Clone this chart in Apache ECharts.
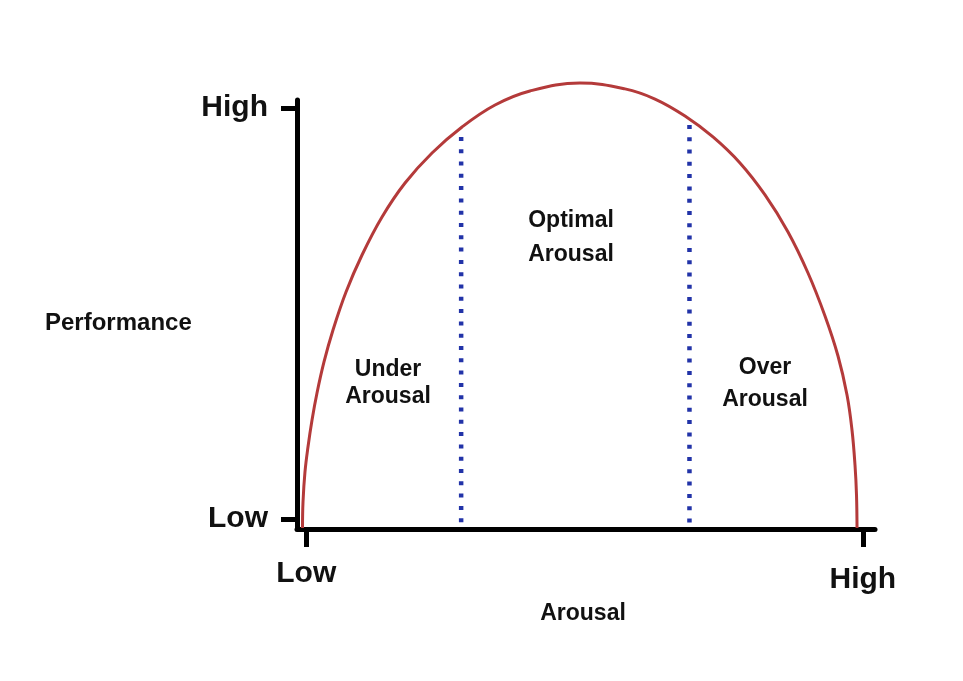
<!DOCTYPE html>
<html><head><meta charset="utf-8">
<script src="https://cdn.jsdelivr.net/npm/echarts@6/dist/echarts.min.js"></script>
<style>html,body{margin:0;padding:0;background:#fff}#c{width:963px;height:681px}</style>
</head><body><div id="c"></div>
<script>
// Inverted-U curve (arousal vs performance) (0-100 scales)
const curveX = [0.95, 1.04, 1.38, 1.90, 2.60, 3.46, 4.67, 6.23, 8.48, 11.25, 14.71, 18.69, 23.36, 28.55, 34.26, 40.31, 48.96, 56.75, 61.94, 67.13, 71.97, 76.64, 80.97, 84.95, 88.41, 91.35, 93.60, 95.16, 96.02, 96.54, 96.80, 96.89];
const curveY = [0.23, 6.29, 13.29, 19.11, 25.41, 31.70, 38.93, 46.39, 55.24, 63.87, 72.73, 80.65, 87.65, 93.71, 98.83, 102.10, 103.96, 102.60, 100.23, 96.27, 91.38, 85.31, 77.86, 69.23, 59.67, 49.65, 40.33, 31.24, 23.08, 14.92, 7.93, 0.23];
const dividerX = [28.4, 67.9];
const dividerTop = [91.4, 94.2];
const yTickValues = [2.3, 98.1];
const yTickLabels = ['Low', 'High'];
const xTickValues = [1.6, 97.9];
const xTickLabels = ['Low', 'High'];
const regionLabels = [['Under', 'Arousal'], ['Optimal', 'Arousal'], ['Over', 'Arousal']];
const yAxisTitle = 'Performance';
const xAxisTitle = 'Arousal';

const FONT = "'Liberation Sans', Arial, sans-serif";
const chart = echarts.init(document.getElementById('c'), null, {renderer: 'canvas'});

function lookup(vals, labels, v) {
  const i = vals.findIndex(t => Math.abs(t - v) < 1e-6);
  return i >= 0 ? labels[i] : '';
}

const regionPos = [
  {x: 388, y: [370, 397]},
  {x: 571, y: [221, 255]},
  {x: 765, y: [368, 400]}
];
const graphics = [];
regionLabels.forEach((lines, i) => {
  lines.forEach((t, j) => {
    graphics.push({type: 'text', x: regionPos[i].x, y: regionPos[i].y[j],
      style: {text: t, font: 'bold 23px ' + FONT, fill: '#111', textAlign: 'center', textVerticalAlign: 'middle'}});
  });
});
graphics.push({type: 'text', x: 45, y: 323,
  style: {text: yAxisTitle, font: 'bold 24px ' + FONT, fill: '#111', textAlign: 'left', textVerticalAlign: 'middle'}});
graphics.push({type: 'text', x: 583, y: 614,
  style: {text: xAxisTitle, font: 'bold 23px ' + FONT, fill: '#111', textAlign: 'center', textVerticalAlign: 'middle'}});

const series = [];
dividerX.forEach((x, i) => {
  series.push({
    type: 'line', data: [[x, dividerTop[i]], [x, 0]], symbol: 'none', silent: true,
    lineStyle: {color: '#2233a8', width: 4.5, type: [4, 8.3], cap: 'butt'}, z: 2
  });
});
series.push({
  type: 'line', data: curveX.map((x, i) => [x, curveY[i]]), symbol: 'none', smooth: 0.4,
  clip: false, lineStyle: {color: '#b43a3a', width: 3}, z: 3
});

chart.setOption({
  animation: false,
  backgroundColor: '#fff',
  grid: {left: 297, right: 88, top: 100, bottom: 152},
  xAxis: {
    type: 'value', min: 0, max: 100, splitLine: {show: false},
    axisLine: {lineStyle: {color: '#000', width: 5}},
    axisTick: {show: true, customValues: xTickValues, length: 18, lineStyle: {color: '#000', width: 5}},
    axisLabel: {customValues: xTickValues, margin: 30, color: '#111', fontFamily: FONT, fontWeight: 'bold', fontSize: 30,
      formatter: v => {
        const t = lookup(xTickValues, xTickLabels, v);
        return t === 'High' ? '{hi|' + t + '}' : '{lo|' + t + '}';
      },
      rich: {
        lo: {fontFamily: FONT, fontWeight: 'bold', fontSize: 30, color: '#111'},
        hi: {fontFamily: FONT, fontWeight: 'bold', fontSize: 30, color: '#111', padding: [6, 0, 0, 0]}
      }
    }
  },
  yAxis: {
    type: 'value', min: 0, max: 100, splitLine: {show: false},
    axisLine: {show: true, lineStyle: {color: '#000', width: 5}},
    axisTick: {show: true, customValues: yTickValues, length: 16, lineStyle: {color: '#000', width: 5}},
    axisLabel: {customValues: yTickValues, margin: 29, color: '#111', fontFamily: FONT, fontWeight: 'bold', fontSize: 30,
      formatter: v => lookup(yTickValues, yTickLabels, v)}
  },
  graphic: graphics,
  series: series
});
</script></body></html>
